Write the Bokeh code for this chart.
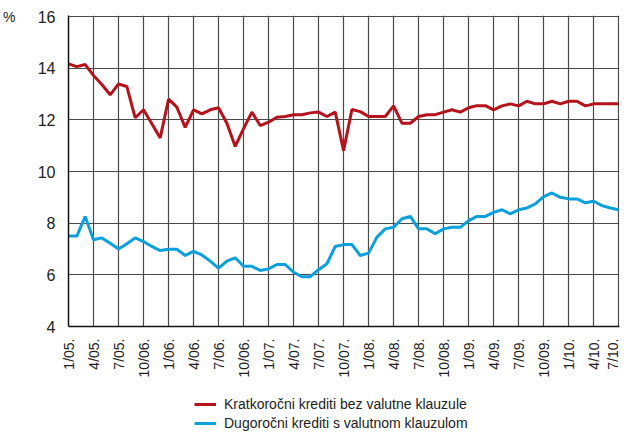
from bokeh.plotting import figure
from bokeh.models import (ColumnDataSource, FixedTicker, Legend, LegendItem, Range1d, LinearAxis)
from bokeh.layouts import column
from bokeh.embed import file_html
from bokeh.resources import INLINE

tick_labels = ["1/05.", "4/05.", "7/05.", "10/06.", "1/06.", "4/06.", "7/06.", "10/06.",
               "1/07.", "4/07.", "7/07.", "10/07.", "1/08.", "4/08.", "7/08.", "10/08.",
               "1/09.", "4/09.", "7/09.", "10/09.", "1/10.", "4/10.", "7/10."]

short_term = [14.17, 14.06, 14.14, 13.72, 13.37, 12.97, 13.39, 13.29, 12.08, 12.39,
              11.85, 11.30, 12.80, 12.49, 11.71, 12.39, 12.23, 12.39, 12.47, 11.87,
              10.97, 11.66, 12.30, 11.78, 11.91, 12.10, 12.13, 12.20, 12.20, 12.27,
              12.30, 12.13, 12.30, 10.81, 12.40, 12.32, 12.13, 12.13, 12.13, 12.54,
              11.87, 11.87, 12.13, 12.20, 12.20, 12.30, 12.39, 12.30, 12.47, 12.55,
              12.55, 12.39, 12.54, 12.62, 12.54, 12.72, 12.62, 12.62, 12.72, 12.62,
              12.72, 12.72, 12.54, 12.62, 12.62, 12.62, 12.62]

long_term = [7.50, 7.50, 8.26, 7.36, 7.43, 7.22, 7.00, 7.20, 7.43, 7.29,
             7.10, 6.94, 6.99, 6.99, 6.75, 6.91, 6.77, 6.53, 6.26, 6.53,
             6.66, 6.33, 6.33, 6.17, 6.23, 6.40, 6.40, 6.10, 5.93, 5.93,
             6.20, 6.43, 7.10, 7.17, 7.17, 6.75, 6.84, 7.46, 7.78, 7.84,
             8.17, 8.26, 7.78, 7.78, 7.59, 7.78, 7.84, 7.84, 8.10, 8.26,
             8.26, 8.42, 8.52, 8.36, 8.52, 8.59, 8.75, 9.03, 9.17, 9.00,
             8.94, 8.94, 8.79, 8.85, 8.68, 8.59, 8.52]

series_names = ["Kratkoročni krediti bez valutne klauzule",
                "Dugoročni krediti s valutnom klauzulom"]
series_colors = ["#b5121b", "#0aa0dc"]
y_ticks = [4, 6, 8, 10, 12, 14, 16]
unit_label = "%"

months = list(range(len(short_term)))
tick_pos = [3 * i for i in range(len(tick_labels))]

FONT = "Liberation Sans"
TXT = "#222222"
RULE = "#3a3a3a"

src = ColumnDataSource(dict(x=months, a=short_term, b=long_term))

# ---- top rule strip ----
rule = figure(width=620, height=2, output_backend="svg", toolbar_location=None,
              x_range=Range1d(0, 1), y_range=Range1d(0, 1),
              min_border_left=0, min_border_right=0, min_border_top=0, min_border_bottom=0)
rule.axis.visible = False
rule.grid.visible = False
rule.outline_line_color = None
rule.border_fill_color = RULE
rule.background_fill_color = RULE

# ---- main chart ----
p = figure(width=620, height=386, output_backend="svg", toolbar_location=None,
           x_range=Range1d(0, 66.1), y_range=Range1d(4, 16.04),
           min_border_left=67, min_border_right=1, min_border_top=13, min_border_bottom=62)
p.outline_line_color = None

p.line("x", "a", source=src, line_color=series_colors[0], line_width=3)
p.line("x", "b", source=src, line_color=series_colors[1], line_width=3)

p.xaxis.ticker = FixedTicker(ticks=tick_pos)
p.xaxis.major_label_overrides = {t: l for t, l in zip(tick_pos, tick_labels)}
p.xaxis.major_label_orientation = 1.5707963
p.xaxis.major_label_standoff = 12
p.yaxis.ticker = FixedTicker(ticks=y_ticks)
p.yaxis.major_label_standoff = 13

for ax in (p.xaxis, p.yaxis):
    ax.major_label_text_font = FONT
    ax.major_label_text_color = TXT
    ax.major_tick_line_color = None
    ax.major_tick_out = 0
    ax.major_tick_in = 0
    ax.minor_tick_line_color = None
    ax.minor_tick_out = 0
    ax.axis_line_color = "#111111"
    ax.axis_line_width = 1.5
p.xaxis.major_label_text_font_size = "14px"
p.yaxis.major_label_text_font_size = "16px"

# unit label "%" as an extra left axis with a single tick at the top
unit_axis = LinearAxis(ticker=FixedTicker(ticks=[y_ticks[-1]]),
                       major_label_overrides={y_ticks[-1]: unit_label})
unit_axis.axis_line_color = None
unit_axis.major_tick_line_color = None
unit_axis.major_tick_out = 0
unit_axis.major_tick_in = 0
unit_axis.minor_tick_line_color = None
unit_axis.minor_tick_out = 0
unit_axis.major_label_standoff = 19
unit_axis.major_label_text_font = FONT
unit_axis.major_label_text_font_size = "14px"
unit_axis.major_label_text_color = TXT
p.add_layout(unit_axis, "left")

p.xgrid.ticker = FixedTicker(ticks=tick_pos)
p.xgrid.grid_line_color = "#4a4a4a"
p.xgrid.grid_line_width = 1.2
p.ygrid.grid_line_color = "#4a4a4a"
p.ygrid.grid_line_width = 1.2

# ---- legend strip ----
lg = figure(width=620, height=44, output_backend="svg", toolbar_location=None,
            x_range=Range1d(0, 1), y_range=Range1d(0, 1),
            min_border_left=0, min_border_right=0, min_border_top=0, min_border_bottom=0)
lg.axis.visible = False
lg.grid.visible = False
lg.outline_line_color = None
l1 = lg.line([5, 6], [5, 6], line_color=series_colors[0], line_width=3)
l2 = lg.line([5, 6], [5, 6], line_color=series_colors[1], line_width=3)
legend = Legend(items=[LegendItem(label=series_names[0], renderers=[l1]),
                       LegendItem(label=series_names[1], renderers=[l2])],
                orientation="vertical", location=(126, 0),
                label_text_font=FONT, label_text_font_size="14px",
                label_text_color=TXT, border_line_color=None,
                background_fill_alpha=0,
                glyph_width=22, glyph_height=18, label_height=18, spacing=1,
                padding=0, margin=0, label_standoff=8)
lg.add_layout(legend)

layout = column(rule, p, lg, spacing=0)

open("out.html", "w").write(file_html(layout, INLINE))
